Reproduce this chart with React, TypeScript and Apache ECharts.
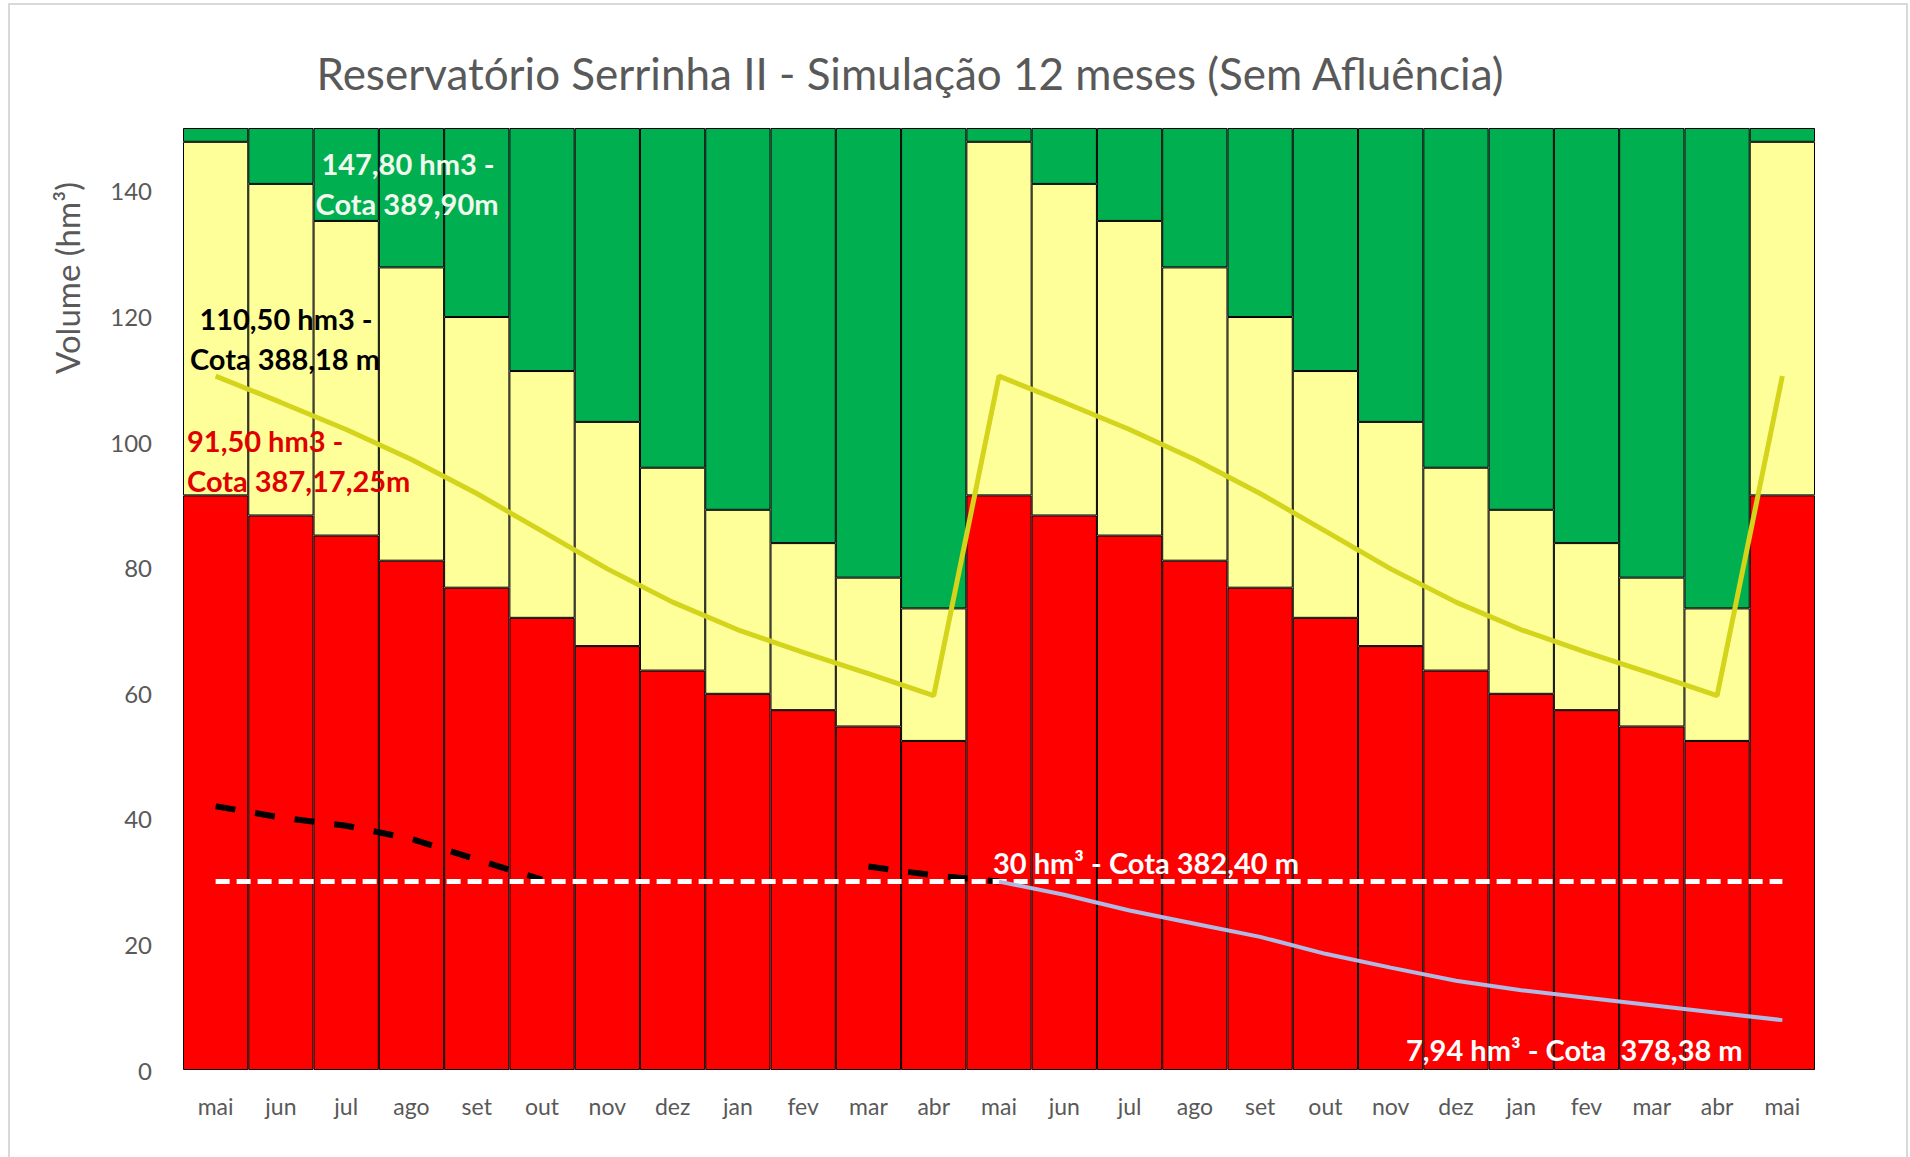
import React, { useEffect, useRef } from "react";
import * as echarts from "echarts";

const months = ["mai", "jun", "jul", "ago", "set", "out", "nov", "dez", "jan", "fev", "mar", "abr", "mai", "jun", "jul", "ago", "set", "out", "nov", "dez", "jan", "fev", "mar", "abr", "mai"];

// red band (bottom) volume per month
const redVolume = [91.5, 88.3, 85.1, 81.1, 76.8, 72.0, 67.5, 63.6, 59.9, 57.3, 54.7, 52.4, 91.5, 88.3, 85.1, 81.1, 76.8, 72.0, 67.5, 63.6, 59.9, 57.3, 54.7, 52.4, 91.5];
// top of yellow band (cumulative)
const yellowTop = [147.8, 141.1, 135.2, 127.8, 119.9, 111.3, 103.2, 95.9, 89.2, 83.9, 78.4, 73.5, 147.8, 141.1, 135.2, 127.8, 119.9, 111.3, 103.2, 95.9, 89.2, 83.9, 78.4, 73.5, 147.8];
const axisMax = 150;

const simulation = [110.5, 106.3, 102.0, 97.2, 91.8, 85.8, 79.8, 74.5, 70.1, 66.5, 63.1, 59.6, 110.5, 106.3, 102.0, 97.2, 91.8, 85.8, 79.8, 74.5, 70.1, 66.5, 63.1, 59.6, 110.5];
const observed = [42.0, 40.2, 38.9, 36.8, 33.5, 30.3, null, null, null, null, 32.4, 31.0, 30.0, null, null, null, null, null, null, null, null, null, null, null, null];
const minVolume = months.map(() => 30);
const noInflow = [null, null, null, null, null, null, null, null, null, null, null, null, 30.0, 27.9, 25.4, 23.3, 21.2, 18.5, 16.3, 14.2, 12.7, 11.5, 10.3, 9.1, 7.94];

const yellowBand = yellowTop.map((v, i) => +(v - redVolume[i]).toFixed(2));
const greenBand = yellowTop.map((v) => +(axisMax - v).toFixed(2));

const FONT = "Lato, 'Open Sans', sans-serif";

export default function App() {
  const ref = useRef<HTMLDivElement>(null);
  useEffect(() => {
    if (!ref.current) return;
    const chart = echarts.init(ref.current, null, { renderer: "svg" });
    const barStyle = (color: string) => ({ color, borderColor: "#000000", borderWidth: 1 });
    const lbl = `bold 29px ${FONT}`;
    chart.setOption({
      animation: false,
      backgroundColor: "#ffffff",
      textStyle: { fontFamily: FONT },
      grid: { left: 183, top: 128, right: 95, bottom: 87, containLabel: false },
      xAxis: {
        type: "category",
        data: months,
        axisLine: { show: false },
        axisTick: { show: false },
        axisLabel: { color: "#595959", fontSize: 23, margin: 24, fontFamily: FONT },
      },
      yAxis: {
        type: "value",
        min: 0,
        max: axisMax,
        interval: 20,
        axisLine: { show: false },
        axisTick: { show: false },
        splitLine: { show: false },
        axisLabel: { color: "#595959", fontSize: 24, margin: 31, showMaxLabel: false, fontFamily: FONT },
      },
      series: [
        { type: "bar", stack: "v", data: redVolume, barCategoryGap: "0%", itemStyle: barStyle("#FF0000") },
        { type: "bar", stack: "v", data: yellowBand, barCategoryGap: "0%", itemStyle: barStyle("#FFFF99") },
        { type: "bar", stack: "v", data: greenBand, barCategoryGap: "0%", itemStyle: barStyle("#00B050") },
        {
          type: "line", data: simulation, symbol: "none", z: 5,
          lineStyle: { color: "#D4D41C", width: 5 },
        },
        {
          type: "line", data: observed, symbol: "none", z: 6, connectNulls: false,
          lineStyle: { color: "#000000", width: 6, type: [20, 20], cap: "butt" },
        },
        {
          type: "line", data: minVolume, symbol: "none", z: 7,
          lineStyle: { color: "#FFFFFF", width: 5, type: [14, 7], cap: "butt" },
        },
        {
          type: "line", data: noInflow, symbol: "none", z: 8,
          lineStyle: { color: "#B0B8E4", width: 4 },
        },
      ],
      graphic: [
        { type: "rect", shape: { x: 9, y: 4, width: 1898, height: 1160 }, style: { fill: "none", stroke: "#D9D9D9", lineWidth: 2 }, silent: true, z: -10 },
        { type: "text", x: 910, y: 73, style: { text: "Reservatório Serrinha II - Simulação 12 meses (Sem Afluência)", fill: "#595959", font: `44px ${FONT}`, textAlign: "center", textVerticalAlign: "middle" } },
        { type: "text", x: 67, y: 278, rotation: Math.PI / 2, style: { text: "Volume (hm³)", fill: "#595959", font: `33px ${FONT}`, textAlign: "center", textVerticalAlign: "middle" } },
        { type: "text", x: 408, y: 163, z: 20, style: { text: "147,80 hm3 -", fill: "#F2F8EE", font: lbl, textAlign: "center", textVerticalAlign: "middle" } },
        { type: "text", x: 407, y: 203, z: 20, style: { text: "Cota 389,90m", fill: "#F2F8EE", font: lbl, textAlign: "center", textVerticalAlign: "middle" } },
        { type: "text", x: 286, y: 318, z: 20, style: { text: "110,50 hm3 -", fill: "#000000", font: lbl, textAlign: "center", textVerticalAlign: "middle" } },
        { type: "text", x: 285, y: 358, z: 20, style: { text: "Cota 388,18 m", fill: "#000000", font: lbl, textAlign: "center", textVerticalAlign: "middle" } },
        { type: "text", x: 187, y: 440, z: 20, style: { text: "91,50 hm3 -", fill: "#E00000", font: lbl, textAlign: "left", textVerticalAlign: "middle" } },
        { type: "text", x: 187, y: 480, z: 20, style: { text: "Cota 387,17,25m", fill: "#E00000", font: lbl, textAlign: "left", textVerticalAlign: "middle" } },
        { type: "text", x: 993, y: 862, z: 20, style: { text: "30 hm³ - Cota 382,40 m", fill: "#FFFFFF", font: lbl, textAlign: "left", textVerticalAlign: "middle" } },
        { type: "text", x: 1406, y: 1049, z: 20, style: { text: "7,94 hm³ - Cota  378,38 m", fill: "#FFFFFF", font: lbl, textAlign: "left", textVerticalAlign: "middle" } },
      ],
    });
    return () => chart.dispose();
  }, []);
  return <div ref={ref} style={{ position: "fixed", left: 0, top: 0, width: 1910, height: 1157 }} />;
}
